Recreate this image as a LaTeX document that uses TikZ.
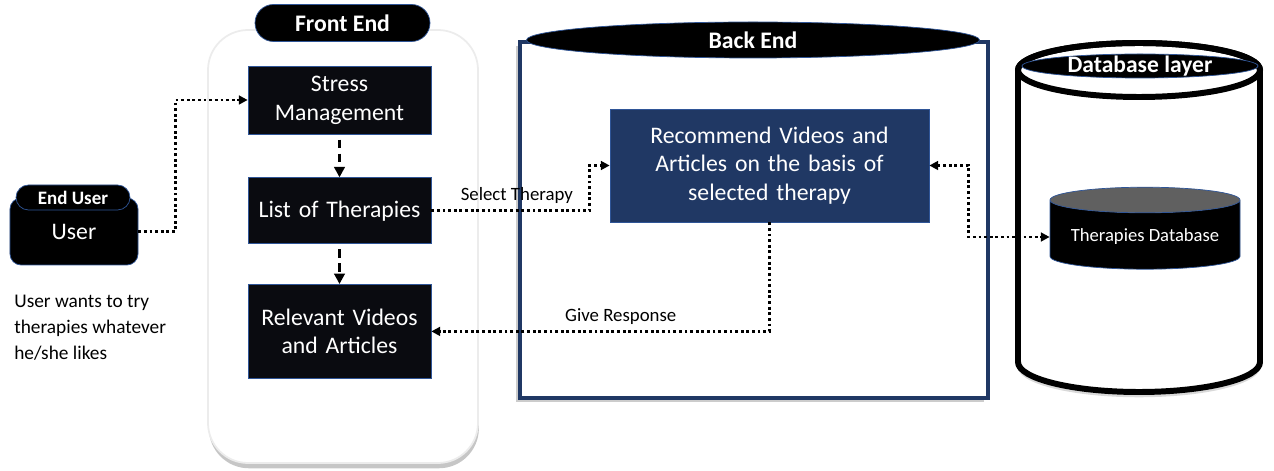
\documentclass[tikz,border=0pt]{standalone}
\usepackage{fontspec}
\setmainfont{Carlito}
\usepackage{tikz}
\usetikzlibrary{calc}
\usetikzlibrary{positioning}
\usetikzlibrary{shapes.geometric}
\usetikzlibrary{shadows}
\usetikzlibrary{arrows.meta}

\definecolor{navy}{HTML}{203864}
\definecolor{edgeblue}{HTML}{2F5597}
\definecolor{boxblack}{HTML}{0A0B10}

\tikzset{
    stage/.style={rectangle, minimum width=3.66cm, text width=3.4cm, align=center, fill=boxblack, draw=edgeblue, text=white, font=\fontsize{13.5}{16.4}\selectfont},
    title/.style={fill=black, draw=edgeblue, text=white, inner sep=0pt, font=\bfseries\fontsize{13.5}{16}\selectfont},
    flow/.style={>={Triangle[length=6pt, width=6pt]}, line width=1.8pt, dash pattern=on 5pt off 3pt},
    link/.style={>={Triangle[length=5pt, width=5pt]}, line width=1.5pt, dash pattern=on 1.6pt off 1.6pt},
    note/.style={font=\fontsize{10.7}{13}\selectfont}
}

\begin{document}
\begin{tikzpicture}
    \useasboundingbox (0, 0) rectangle (25.48, -9.42);

    % front end
    \draw [rounded corners=0.8cm, fill=white, draw=gray!15, line width=1pt, drop shadow={opacity=0.45, shadow xshift=0.5pt, shadow yshift=-3pt}] (4.16, -0.6) rectangle (9.56, -9.26);
    \node [title, rounded corners=0.37cm, minimum width=3.5cm, minimum height=0.74cm] (frontend) at (6.85, -0.46) {Front End};

    \node [stage, minimum height=1.36cm] (stress) at (6.79, -2.0) {Stress\\Management};
    \node [stage, minimum height=1.32cm, below=0.86cm of stress] (therapies) {List of Therapies};
    \node [stage, minimum height=1.88cm, below=0.8cm of therapies] (media) {Relevant Videos\\and Articles};

    \draw [flow, ->] ([yshift=-3pt]stress.south) -- (therapies.north);
    \draw [flow, ->] ([yshift=-3pt]therapies.south) -- (media.north);

    % end user
    \node [rectangle, rounded corners=0.22cm, fill=black, draw=edgeblue, text=white, minimum width=2.56cm, minimum height=1.34cm, font=\fontsize{13.5}{16}\selectfont] (user) at (1.48, -4.63) {User};
    \node [title, rounded corners=0.25cm, minimum width=2.28cm, minimum height=0.5cm, font=\bfseries\fontsize{10.8}{12}\selectfont] (enduser) at (1.46, -3.95) {End User};
    \node [anchor=north west, align=left, inner sep=0pt, font=\fontsize{11}{14.7}\selectfont] (wish) at (0.28, -5.9) {User wants to try\\therapies whatever\\he/she likes};

    % back end
    \draw [draw=navy, line width=2.8pt, fill=white, drop shadow={opacity=0.4, shadow xshift=-2pt, shadow yshift=-2pt}] (10.4, -0.84) rectangle (19.76, -7.96);
    \node [title, ellipse, minimum width=9.06cm, minimum height=0.72cm] (backend) at (15.06, -0.8) {Back End};
    \node [stage, fill=navy, minimum width=6.38cm, minimum height=2.26cm, text width=6cm] (recommend) at (15.39, -3.31) {Recommend Videos and\\Articles on the basis of\\selected therapy};

    % database layer
    \draw [line width=3.4pt, fill=white, drop shadow={opacity=0.3, shadow xshift=0pt, shadow yshift=-3pt}] (20.36, -1.4) -- (20.36, -7.24) arc [start angle=180, end angle=360, x radius=2.42cm, y radius=0.6cm] -- (25.2, -1.4) arc [start angle=0, end angle=180, x radius=2.42cm, y radius=0.54cm];
    \draw [line width=3.4pt] (22.78, -1.4) ellipse [x radius=2.42cm, y radius=0.54cm];
    \node [ellipse, fill=black, draw=edgeblue, minimum width=4.72cm, minimum height=0.48cm, label={[text=white, font=\bfseries\fontsize{13.4}{16}\selectfont]center:Database layer}] (dblayer) at (22.8, -1.32) {};
    \node [cylinder, shape border rotate=90, shape aspect=0.16, cylinder uses custom fill, cylinder body fill=black, cylinder end fill=gray!75!black, draw=edgeblue, text=white, minimum width=3.8cm, minimum height=1.64cm, font=\fontsize{10.6}{12}\selectfont] (store) at (22.9, -4.74) {Therapies Database};

    % connectors
    \draw [link, ->] (user.east) -- ++(0.74, 0) |- (stress.west);
    \draw [link, ->] (therapies.east) -| ([xshift=-0.4cm]recommend.west) node [pos=0.27, above, note] {Select Therapy} -- (recommend.west);
    \draw [link, ->] (recommend.south) |- (media.east) node [pos=0.72, above, note] {Give Response};
    \draw [link, <->] (recommend.east) -- ++(0.78, 0) |- (store.west);
\end{tikzpicture}
\end{document}
